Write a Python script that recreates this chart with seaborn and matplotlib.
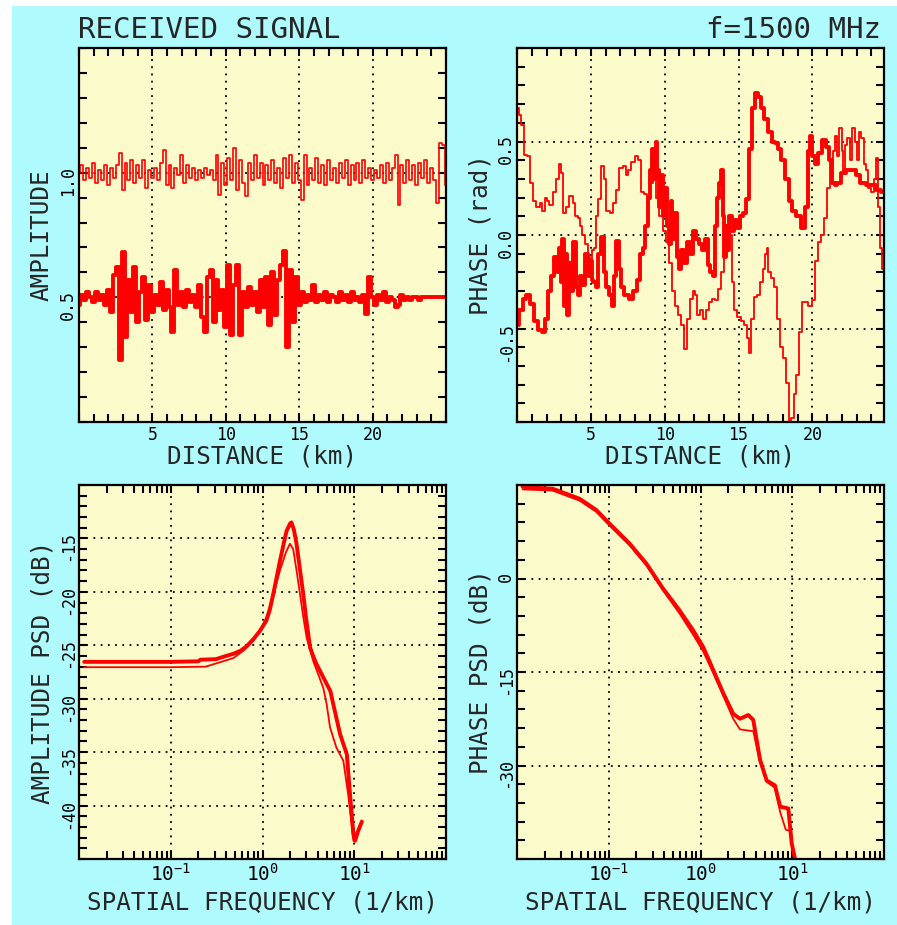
import numpy as np
import matplotlib
matplotlib.use("Agg")
import matplotlib.pyplot as plt
import seaborn as sns
from matplotlib.patches import Rectangle
from matplotlib.ticker import MultipleLocator, NullFormatter, LogLocator

# ---- received amplitude, sampled every 0.2 km ----
amp_step = 0.2
amp_ref = [1.00, 1.03, 0.97, 1.02, 0.98, 1.04, 0.96, 1.01, 0.97, 1.03, 0.95, 1.02, 0.98, 1.03,
           1.08, 0.93, 1.04, 0.97, 1.05, 0.96, 1.03, 0.98, 1.05, 0.94, 1.01, 0.98, 1.02, 0.97,
           1.04, 1.09, 0.95, 1.03, 0.94, 1.02, 0.99, 1.07, 0.96, 1.03, 0.98, 1.02, 0.97, 1.01,
           0.98, 1.02, 0.99, 1.01, 0.97, 1.07, 0.91, 1.04, 0.95, 1.06, 0.97, 1.10, 0.93, 1.05,
           0.96, 0.905, 1.04, 0.97, 1.07, 0.98, 1.04, 0.95, 1.03, 0.97, 1.05, 0.96, 1.02, 0.94,
           1.06, 0.98, 1.07, 0.96, 1.04, 0.97, 0.89, 1.07, 0.95, 1.02, 0.97, 1.06, 0.96, 1.03,
           0.95, 1.05, 0.97, 1.02, 0.96, 1.04, 0.98, 1.05, 0.95, 1.03, 0.97, 1.04, 0.96, 1.05,
           0.98, 1.02, 0.97, 1.01, 0.98, 1.03, 0.96, 1.04, 0.97, 1.02, 1.07, 0.87, 1.03, 0.96,
           1.05, 0.97, 1.03, 0.95, 1.04, 0.98, 1.05, 0.96, 1.02, 0.97, 0.88, 1.12, 1.11, 0.95]
amp_sim = [0.47, 0.51, 0.49, 0.52, 0.50, 0.48, 0.52, 0.49, 0.51, 0.47, 0.53, 0.44, 0.59, 0.62,
           0.25, 0.68, 0.34, 0.57, 0.44, 0.62, 0.40, 0.52, 0.58, 0.41, 0.55, 0.44, 0.51, 0.47,
           0.56, 0.45, 0.53, 0.46, 0.36, 0.61, 0.47, 0.52, 0.46, 0.53, 0.48, 0.51, 0.46, 0.55,
           0.42, 0.36, 0.58, 0.61, 0.40, 0.57, 0.45, 0.53, 0.38, 0.63, 0.35, 0.55, 0.63, 0.35,
           0.52, 0.46, 0.54, 0.47, 0.52, 0.44, 0.57, 0.46, 0.58, 0.39, 0.60, 0.43, 0.57, 0.63,
           0.685, 0.30, 0.61, 0.40, 0.58, 0.47, 0.52, 0.48, 0.51, 0.49, 0.55, 0.48, 0.51, 0.49,
           0.52, 0.48, 0.51, 0.50, 0.48, 0.52, 0.49, 0.51, 0.48, 0.52, 0.49, 0.50, 0.48, 0.51,
           0.435, 0.58, 0.50, 0.47, 0.51, 0.49, 0.52, 0.48, 0.50, 0.49, 0.46, 0.47, 0.51, 0.49,
           0.50, 0.49, 0.50, 0.50, 0.49, 0.50, 0.50, 0.50, 0.50, 0.50, 0.50, 0.50, 0.50, 0.50]

# ---- received phase (rad) ----
ph_thick_km = [0.0, 0.3, 0.5, 0.75, 1.0, 1.3, 1.6, 1.8, 2.0, 2.2, 2.4, 2.6, 2.8, 2.9, 3.0, 3.1,
               3.2, 3.3, 3.45, 3.6, 3.75, 3.9, 4.05, 4.2, 4.35, 4.5, 4.7, 4.85, 5.0, 5.1, 5.25,
               5.4, 5.55, 5.8, 5.95, 6.1, 6.3, 6.5, 6.65, 6.8, 6.95, 7.1, 7.4, 7.7, 8.0, 8.2,
               8.4, 8.6, 8.8, 8.95, 9.1, 9.2, 9.35, 9.45, 9.55, 9.7, 9.85, 9.95, 10.1, 10.2,
               10.35, 10.45, 10.6, 10.75, 10.9, 11.05, 11.2, 11.4, 11.6, 11.8, 12.0, 12.2, 12.4,
               12.6, 12.8, 13.0, 13.2, 13.3, 13.45, 13.6, 13.75, 13.9, 14.0, 14.1, 14.2, 14.3,
               14.45, 14.6, 14.8, 15.0, 15.2, 15.4, 15.6, 15.8, 16.0, 16.2, 16.4, 16.6, 16.9,
               17.1, 17.4, 17.6, 17.8, 18.0, 18.3, 18.5, 18.8, 19.0, 19.4, 19.6, 19.8, 19.9,
               20.1, 20.3, 20.5, 20.8, 21.0, 21.2, 21.4, 21.6, 21.8, 22.1, 22.4, 22.8, 23.1,
               23.4, 23.8, 24.1, 24.5, 24.85]
ph_thick = [-0.48, -0.40, -0.34, -0.32, -0.37, -0.46, -0.51, -0.52, -0.45, -0.30, -0.22, -0.12,
            -0.20, -0.07, -0.25, -0.02, -0.38, -0.10, -0.43, -0.15, -0.30, -0.04, -0.28, -0.32,
            -0.22, -0.27, -0.10, -0.22, -0.14, -0.24, -0.25, -0.28, -0.10, -0.01, -0.20, -0.28,
            -0.32, -0.38, -0.22, -0.03, -0.18, -0.28, -0.32, -0.34, -0.30, -0.24, -0.10, -0.07,
            0.05, 0.20, 0.35, 0.46, 0.30, 0.50, 0.35, 0.15, 0.32, 0.10, 0.25, 0.05, -0.05, 0.18,
            -0.02, 0.12, -0.12, -0.18, -0.08, -0.15, -0.04, -0.10, 0.02, -0.02, -0.05, -0.08,
            -0.02, -0.16, -0.20, -0.22, 0.05, 0.20, 0.28, 0.35, 0.10, -0.12, 0.05, -0.08, 0.10,
            0.02, 0.08, 0.04, 0.10, 0.12, 0.19, 0.46, 0.68, 0.76, 0.74, 0.68, 0.62, 0.55, 0.50,
            0.49, 0.46, 0.40, 0.30, 0.18, 0.13, 0.10, 0.04, 0.15, 0.45, 0.53, 0.42, 0.38, 0.44,
            0.51, 0.47, 0.40, 0.28, 0.27, 0.28, 0.33, 0.35, 0.35, 0.32, 0.28, 0.27, 0.27, 0.24,
            0.23]
ph_thin_km = [0.07, 0.2, 0.4, 0.6, 0.75, 1.0, 1.2, 1.4, 1.65, 1.8, 1.95, 2.1, 2.3, 2.55, 2.75,
              2.9, 3.05, 3.2, 3.4, 3.7, 3.85, 4.0, 4.2, 4.35, 4.5, 4.7, 4.85, 5.0, 5.15, 5.25,
              5.4, 5.6, 5.8, 5.95, 6.15, 6.4, 6.6, 6.8, 7.0, 7.3, 7.45, 7.6, 7.9, 8.1, 8.3, 8.5,
              8.7, 8.9, 9.1, 9.3, 9.5, 9.75, 10.0, 10.2, 10.4, 10.6, 10.8, 11.0, 11.2, 11.4,
              11.6, 11.8, 12.0, 12.1, 12.3, 12.5, 12.7, 12.9, 13.1, 13.3, 13.5, 13.7, 13.9,
              14.1, 14.3, 14.45, 14.6, 14.8, 15.0, 15.3, 15.5, 15.65, 15.8, 15.95, 16.1, 16.4,
              16.55, 16.7, 16.85, 16.95, 17.1, 17.3, 17.5, 17.7, 17.9, 18.1, 18.3, 18.5, 18.65,
              18.8, 18.95, 19.2, 19.4, 19.6, 19.8, 20.1, 20.3, 20.5, 20.7, 20.9, 21.1, 21.3,
              21.5, 21.6, 21.75, 21.9, 22.05, 22.15, 22.3, 22.45, 22.6, 22.8, 22.95, 23.1,
              23.25, 23.4, 23.55, 23.7, 23.9, 24.1, 24.25, 24.4, 24.55, 24.65, 24.8]
ph_thin = [0.68, 0.64, 0.59, 0.43, 0.42, 0.28, 0.18, 0.15, 0.17, 0.13, 0.20, 0.18, 0.16, 0.23,
           0.30, 0.38, 0.33, 0.12, 0.15, 0.21, 0.17, 0.10, 0.09, 0.05, 0.00, -0.05, -0.12, -0.14,
           -0.08, -0.07, 0.10, 0.19, 0.37, 0.30, 0.13, 0.12, 0.17, 0.24, 0.36, 0.37, 0.32, 0.35,
           0.39, 0.42, 0.40, 0.23, 0.22, 0.19, 0.28, 0.35, 0.20, 0.10, 0.02, -0.04, -0.15, -0.30,
           -0.38, -0.43, -0.48, -0.61, -0.45, -0.34, -0.30, -0.32, -0.43, -0.40, -0.45, -0.40,
           -0.36, -0.34, -0.35, -0.29, -0.20, -0.07, -0.02, 0.00, -0.25, -0.40, -0.44, -0.46,
           -0.48, -0.55, -0.63, -0.45, -0.33, -0.32, -0.25, -0.18, -0.10, -0.07, -0.20, -0.23,
           -0.28, -0.45, -0.60, -0.66, -0.79, -1.00, -0.98, -0.85, -0.75, -0.52, -0.36, -0.36,
           -0.38, -0.35, -0.14, -0.04, 0.00, 0.09, 0.25, 0.39, 0.45, 0.53, 0.42, 0.57, 0.45,
           0.34, 0.48, 0.52, 0.40, 0.57, 0.50, 0.40, 0.55, 0.52, 0.38, 0.35, 0.25, 0.23, 0.30,
           0.41, 0.15, -0.07, -0.18]

# ---- amplitude PSD (dB) vs spatial frequency (1/km) ----
apsd_thick_f = [0.0114, 0.1, 0.2, 0.21, 0.31, 0.4, 0.48, 0.58, 0.67, 0.8, 0.93, 1.1, 1.2, 1.31,
                1.43, 1.55, 1.7, 1.83, 2.0, 2.07, 2.2, 2.35, 2.55, 2.78, 3.0, 3.3, 3.6, 3.9, 4.6,
                5.5, 5.9, 7.0, 8.3, 9.0, 9.8, 10.2, 11.0, 12.1]
apsd_thick = [-26.55, -26.55, -26.5, -26.35, -26.3, -26.0, -25.8, -25.5, -25.1, -24.4, -23.7,
              -22.7, -21.7, -20.2, -18.6, -17.1, -15.5, -14.3, -13.6, -13.5, -14.2, -15.5,
              -17.8, -20.2, -22.6, -25.2, -26.1, -26.8, -28.0, -29.3, -30.5, -33.3, -35.2,
              -39.0, -42.7, -43.3, -42.4, -41.5]
apsd_thin_f = [0.0114, 0.1, 0.24, 0.34, 0.48, 0.62, 0.79, 0.95, 1.1, 1.3, 1.55, 1.8, 1.99, 2.16,
               2.35, 2.56, 2.8, 3.03, 3.58, 4.0, 4.6, 5.0, 5.45, 6.4, 7.6, 8.6, 9.8, 10.6]
apsd_thin = [-27.05, -27.05, -27.0, -26.6, -26.2, -25.5, -24.6, -23.6, -22.4, -20.4, -18.0,
             -16.3, -15.5, -16.0, -18.0, -20.2, -22.5, -24.3, -26.5, -27.6, -29.0, -30.5,
             -32.7, -34.6, -35.8, -39.0, -43.3, -42.7]

# ---- phase PSD (dB) ----
ppsd_thick_f = [0.0115, 0.0245, 0.048, 0.073, 0.102, 0.169, 0.257, 0.39, 0.59, 0.83, 1.07,
                1.38, 1.77, 2.27, 2.69, 3.32, 3.76, 4.46, 5.26, 6.48, 7.39, 9.06, 9.86, 10.7]
ppsd_thick = [14.7, 14.4, 12.8, 11.0, 8.8, 5.6, 2.4, -1.6, -5.1, -8.3, -11.0, -14.7, -18.4,
              -21.7, -22.5, -21.9, -22.7, -29.1, -32.4, -33.2, -36.6, -36.9, -42.5, -44.9]
ppsd_thin_f = [0.0115, 0.0245, 0.048, 0.073, 0.102, 0.169, 0.257, 0.39, 0.59, 0.83, 1.07, 1.38,
               1.77, 2.27, 2.69, 3.32, 3.76, 4.46, 5.26, 6.48, 7.39, 8.5, 9.5, 10.2, 10.7]
ppsd_thin = [14.3, 14.1, 12.5, 10.7, 8.5, 5.3, 2.1, -1.9, -5.6, -9.0, -11.7, -15.2, -18.8,
             -22.5, -24.2, -24.4, -24.5, -29.5, -32.6, -33.6, -37.5, -40.3, -40.5, -43.5, -44.9]

CYAN = "#AFFAFC"
PANEL = "#FBFACB"
RED = "#FF0000"

sns.set_style("ticks")
plt.rcParams["font.family"] = ["DejaVu Sans Mono"]
plt.rcParams["mathtext.default"] = "regular"
plt.rcParams["axes.unicode_minus"] = False

fig = plt.figure(figsize=(8.97, 9.25), dpi=100, facecolor="white")
fig.add_artist(Rectangle((12 / 897, 0), 1, 1 - 6 / 925, transform=fig.transFigure,
                         facecolor=CYAN, edgecolor="none", zorder=-10))

W, H = 897, 925


def make_ax(left, top):
    return fig.add_axes([left / W, 1 - (top + 374) / H, 367 / W, 374 / H])


def style(ax, xlabel, ylabel, xsize=12):
    ax.set_facecolor(PANEL)
    for s in ax.spines.values():
        s.set_color("black")
        s.set_linewidth(1.6)
        s.set_visible(True)
    ax.tick_params(which="both", direction="in", top=True, right=True, length=6,
                   width=1.5, color="black", labelsize=12, labelcolor="black")
    ax.tick_params(axis="x", pad=3, labelsize=xsize)
    ax.tick_params(axis="y", labelrotation=90, pad=1.5)
    ax.grid(True, which="major", color="black", linestyle=(0, (1, 3)), linewidth=1.3)
    ax.set_axisbelow(True)
    ax.set_xlabel(xlabel, fontsize=17.5)
    ax.set_ylabel(ylabel, fontsize=17.5)
    ax.yaxis.set_label_coords(-0.068, 0.5)


def draw(ax, x, y, lw, steps=False):
    kw = dict(drawstyle="steps-mid") if steps else {}
    sns.lineplot(x=x, y=y, ax=ax, color=RED, linewidth=lw, estimator=None, sort=False,
                 legend=False, **kw)


# panel 1: amplitude
ax1 = make_ax(79, 48)
x_amp = np.arange(len(amp_ref)) * amp_step
draw(ax1, x_amp, amp_ref, 1.2, steps=True)
x_amp2 = np.arange(len(amp_sim)) * amp_step
draw(ax1, x_amp2, amp_sim, 2.8, steps=True)
ax1.set_xlim(0, 25)
ax1.set_ylim(0, 1.5)
ax1.set_xticks([5, 10, 15, 20])
ax1.set_yticks([0.5, 1.0])
ax1.set_yticklabels(["0.5", "1.0"])
ax1.xaxis.set_minor_locator(MultipleLocator(1))
ax1.yaxis.set_minor_locator(MultipleLocator(0.1))
style(ax1, "DISTANCE (km)", "AMPLITUDE")
ax1.xaxis.set_label_coords(0.5, -0.06)

# panel 2: phase
ax2 = make_ax(517, 48)
draw(ax2, ph_thick_km, ph_thick, 2.8, steps=True)
draw(ax2, ph_thin_km, ph_thin, 1.3, steps=True)
ax2.set_xlim(0, 24.85)
ax2.set_ylim(-1, 1)
ax2.set_xticks([5, 10, 15, 20])
ax2.set_yticks([-0.5, 0.0, 0.5])
ax2.set_yticklabels(["-0.5", "0.0", "0.5"])
ax2.xaxis.set_minor_locator(MultipleLocator(1))
ax2.yaxis.set_minor_locator(MultipleLocator(0.1))
style(ax2, "DISTANCE (km)", "PHASE (rad)")
ax2.xaxis.set_label_coords(0.5, -0.06)


def log_axis(ax):
    ax.set_xscale("log")
    ax.set_xlim(0.01, 100)
    ax.set_xticks([0.1, 1, 10])
    ax.xaxis.set_minor_locator(LogLocator(base=10, subs=np.arange(2, 10), numticks=20))
    ax.xaxis.set_minor_formatter(NullFormatter())


# panel 3: amplitude PSD
ax3 = make_ax(79, 485)
log_axis(ax3)
draw(ax3, apsd_thick_f, apsd_thick, 2.8)
draw(ax3, apsd_thin_f, apsd_thin, 1.3)
ax3.set_ylim(-45, -10)
ax3.set_yticks([-40, -35, -30, -25, -20, -15])
ax3.yaxis.set_minor_locator(MultipleLocator(1))
style(ax3, "SPATIAL FREQUENCY (1/km)", "AMPLITUDE PSD (dB)", xsize=14)
ax3.xaxis.set_label_coords(0.5, -0.085)

# panel 4: phase PSD
ax4 = make_ax(517, 485)
log_axis(ax4)
draw(ax4, ppsd_thick_f, ppsd_thick, 2.8)
draw(ax4, ppsd_thin_f, ppsd_thin, 1.3)
ax4.set_ylim(-45, 15)
ax4.set_yticks([-30, -15, 0])
ax4.yaxis.set_minor_locator(MultipleLocator(3))
style(ax4, "SPATIAL FREQUENCY (1/km)", "PHASE PSD (dB)", xsize=14)
ax4.xaxis.set_label_coords(0.5, -0.085)

fig.text(78 / W, 1 - 30 / H, "RECEIVED SIGNAL", fontsize=21, ha="left", va="center")
fig.text(881 / W, 1 - 30 / H, "f=1500 MHz", fontsize=21, ha="right", va="center")

fig.savefig("out.png", dpi=100, facecolor=fig.get_facecolor())
